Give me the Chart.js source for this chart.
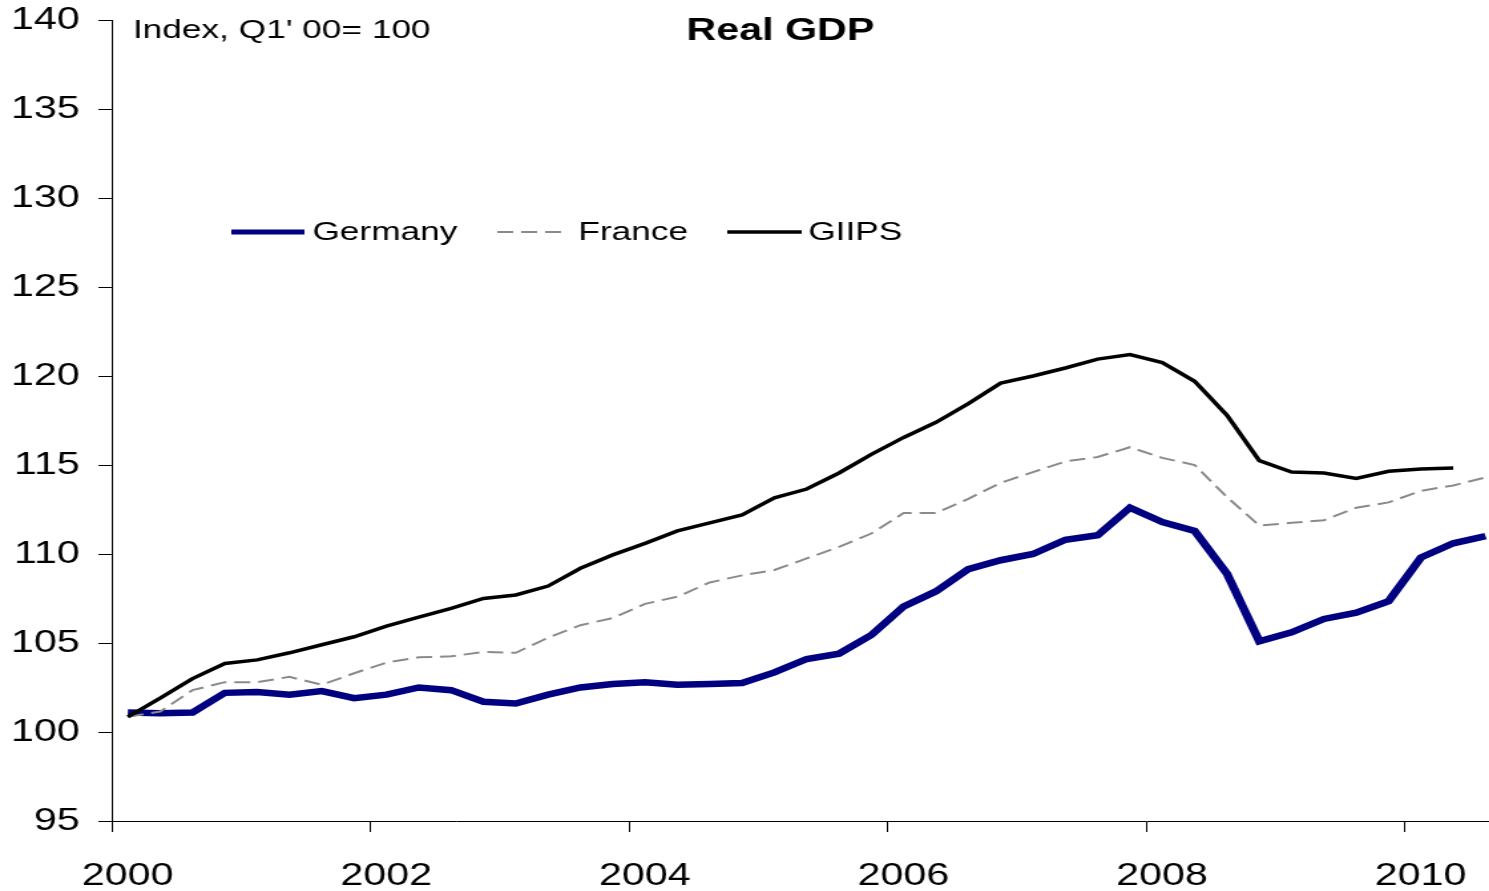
<!DOCTYPE html>
<html>
<head>
<meta charset="utf-8">
<script src="https://cdn.jsdelivr.net/npm/chart.js@4/dist/chart.umd.min.js"></script>
<style>
html, body { margin: 0; padding: 0; background: #fff; overflow: hidden; }
/* the original picture is stretched sideways, so draw narrower and stretch */
#wrap { width: 1125px; height: 891px; transform: scaleX(1.3295); transform-origin: 0 0; }
</style>
</head>
<body>
<div id="wrap"><canvas id="myChart"></canvas></div>
<script>
// quarterly index, Q1 2000 = 100, first value is 2000 Q1
var startYear = 2000;
var germany = [101.1, 101.05, 101.1, 102.2, 102.25, 102.1, 102.3, 101.9, 102.1, 102.5,
  102.35, 101.7, 101.6, 102.1, 102.5, 102.7, 102.8, 102.65, 102.7, 102.75,
  103.35, 104.1, 104.4, 105.45, 107.05, 107.9, 109.15, 109.65, 110.0, 110.8,
  111.05, 112.6, 111.8, 111.3, 108.9, 105.1, 105.6, 106.35, 106.7, 107.35,
  109.8, 110.6, 111.0];
var france = [100.85, 101.15, 102.35, 102.8, 102.8, 103.1, 102.65, 103.3, 103.9, 104.2,
  104.25, 104.5, 104.45, 105.3, 106.0, 106.4, 107.2, 107.6, 108.4, 108.8,
  109.1, 109.75, 110.4, 111.15, 112.3, 112.3, 113.1, 114.0, 114.6, 115.2,
  115.45, 116.0, 115.4, 115.0, 113.2, 111.6, 111.75, 111.9, 112.6, 112.9,
  113.55, 113.85, 114.3];
var giips = [100.85, 101.9, 103.0, 103.85, 104.05, 104.45, 104.9, 105.35, 105.95, 106.45,
  106.95, 107.5, 107.7, 108.2, 109.2, 109.95, 110.6, 111.3, 111.75, 112.2,
  113.15, 113.65, 114.55, 115.6, 116.55, 117.4, 118.45, 119.6, 120.0, 120.45,
  120.95, 121.2, 120.75, 119.7, 117.8, 115.25, 114.6, 114.55, 114.25, 114.65,
  114.78, 114.83];
var yearTicks = [2000, 2002, 2004, 2006, 2008, 2010];
var seriesNames = ['Germany', 'France', 'GIIPS'];

var fontFamily = '"Liberation Sans", Arial, sans-serif';

// each quarter sits in the middle of its quarter on the time axis
function quarterly(values) {
  return values.map(function(v, i) {
    return { x: startYear + (i + 0.5) / 4, y: v };
  });
}

var textPlugin = {
  id: 'texts',
  afterDraw: function(chart) {
    var ctx = chart.ctx;
    ctx.save();
    ctx.fillStyle = '#000';
    ctx.textBaseline = 'middle';
    ctx.font = '26.5px ' + fontFamily;
    ctx.textAlign = 'left';
    ctx.fillText("Index, Q1' 00= 100", 100, 31);
    ctx.font = 'bold 31px ' + fontFamily;
    ctx.textAlign = 'center';
    ctx.fillText('Real GDP', 587, 31);

    // legend
    var spots = [[174, 229, 235], [374, 425, 435], [547, 603, 608]];
    var y = 232;
    chart.data.datasets.forEach(function(ds, i) {
      var s = spots[i];
      ctx.beginPath();
      ctx.strokeStyle = ds.borderColor;
      ctx.lineWidth = Math.min(ds.borderWidth, 5);
      ctx.setLineDash(ds.borderDash || []);
      ctx.moveTo(s[0], y);
      ctx.lineTo(s[1], y);
      ctx.stroke();
      ctx.setLineDash([]);
      ctx.font = '26.5px ' + fontFamily;
      ctx.textAlign = 'left';
      ctx.fillStyle = '#000';
      ctx.fillText(ds.label, s[2], y + 1);
    });
    ctx.restore();
  }
};

var ctx = document.getElementById('myChart');
var myChart = new Chart(ctx, {
  type: 'line',
  data: {
    datasets: [{
      label: seriesNames[0],
      data: quarterly(germany),
      borderColor: '#000080',
      borderWidth: 6.5,
      order: 3
    }, {
      label: seriesNames[1],
      data: quarterly(france),
      borderColor: '#8a8a8a',
      borderWidth: 2,
      borderDash: [12, 6],
      order: 2
    }, {
      label: seriesNames[2],
      data: quarterly(giips),
      borderColor: '#000000',
      borderWidth: 3.5,
      order: 1
    }]
  },
  options: {
    responsive: true,
    maintainAspectRatio: false,
    animation: false,
    layout: { padding: { top: 20, right: 0, bottom: 0, left: 0 } },
    elements: {
      point: { radius: 0, hoverRadius: 0 },
      line: { tension: 0, fill: false }
    },
    plugins: {
      legend: { display: false },
      tooltip: { enabled: false },
      title: { display: false }
    },
    scales: {
      x: {
        type: 'linear',
        min: 2000,
        max: 2010.67,
        afterBuildTicks: function(scale) {
          scale.ticks = yearTicks.map(function(v) { return { value: v }; });
        },
        afterFit: function(scale) {
          scale.height = 70;
          scale.paddingLeft = 0;
          scale.paddingRight = 0;
        },
        grid: { drawOnChartArea: false, drawTicks: true, tickLength: 11, color: '#000', lineWidth: 1 },
        border: { display: true, color: '#000', width: 1 },
        ticks: {
          color: '#000',
          font: { family: fontFamily, size: 31 },
          padding: 26,
          labelOffset: 12,
          maxRotation: 0,
          callback: function(v) { return String(v); }
        }
      },
      y: {
        min: 95,
        max: 140,
        afterFit: function(scale) {
          scale.width = 84;
          scale.paddingTop = 0;
          scale.paddingBottom = 0;
        },
        grid: { drawOnChartArea: false, drawTicks: true, tickLength: 10, color: '#000', lineWidth: 1 },
        border: { display: true, color: '#000', width: 1 },
        ticks: {
          stepSize: 5,
          color: '#000',
          font: { family: fontFamily, size: 31 },
          padding: 14
        }
      }
    }
  },
  plugins: [textPlugin]
});
</script>
</body>
</html>
